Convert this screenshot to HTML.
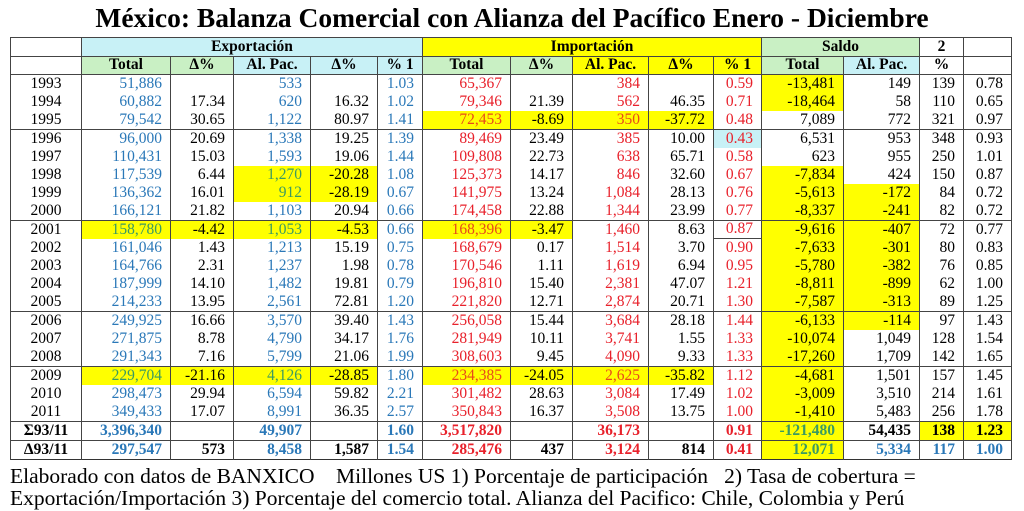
<!DOCTYPE html>
<html><head><meta charset="utf-8"><style>
body{margin:0;width:1024px;height:511px;background:#fff;position:relative;overflow:hidden;font-family:"Liberation Serif",serif;}
h1{position:absolute;left:0;top:3px;width:1024px;margin:0;text-align:center;font-size:27.5px;font-weight:bold;line-height:30px;color:#000;}
table{position:absolute;left:10px;top:37px;border-collapse:collapse;table-layout:fixed;width:1001px;font-size:15.5px;border:1.5px solid #333;}
td{border-left:1px solid #444;border-right:1px solid #444;padding:0 8px 0 0;text-align:right;white-space:nowrap;overflow:hidden;line-height:16px;}
tr.h td{text-align:center;font-weight:bold;padding:0;border:1px solid #444;height:17.5px;}
tr.d td{height:17.95px;}
tr.s td{border-bottom:1px solid #444;}
tr.t td{border-top:1px solid #444;height:18px;font-weight:bold;}
td.y{text-align:center;padding:0;}
.b{color:#2a78b8}.r{color:#e8212b}
.Y{background:#ffff00}
.Yb{background:#ffff00;color:#3a9a62}
.Yr{background:#ffff00;color:#e84a1a}
.lb{background:#c8f1f6}.lg{background:#c9f0c4}
.foot{position:absolute;left:10px;font-size:21.5px;line-height:22px;white-space:nowrap;}
</style></head><body>
<h1>México: Balanza Comercial con Alianza del Pacífico Enero - Diciembre</h1>
<table>
<colgroup><col style="width:71px"><col style="width:89px"><col style="width:63px"><col style="width:77px"><col style="width:67px"><col style="width:45px"><col style="width:88px"><col style="width:62px"><col style="width:76px"><col style="width:65px"><col style="width:48px"><col style="width:82px"><col style="width:76px"><col style="width:44px"><col style="width:48px"></colgroup>
<tr class="h"><td></td><td colspan="5" class="lb">Exportación</td><td colspan="5" class="Y">Importación</td><td colspan="2" class="lg">Saldo</td><td>2</td><td></td></tr>
<tr class="h"><td></td><td class="lg">Total</td><td class="lg">Δ%</td><td class="lb">Al. Pac.</td><td class="lb">Δ%</td><td class="lb">% 1</td><td class="lg">Total</td><td class="lg">Δ%</td><td class="Y">Al. Pac.</td><td class="Y">Δ%</td><td class="Y">% 1</td><td class="lg">Total</td><td class="lb">Al. Pac.</td><td>%</td><td></td></tr>
<tr class="d"><td class="y">1993</td><td class="b">51,886</td><td></td><td class="b">533</td><td></td><td class="b">1.03</td><td class="r">65,367</td><td></td><td class="r">384</td><td></td><td class="r">0.59</td><td class="Y">-13,481</td><td>149</td><td>139</td><td>0.78</td></tr>
<tr class="d"><td class="y">1994</td><td class="b">60,882</td><td>17.34</td><td class="b">620</td><td>16.32</td><td class="b">1.02</td><td class="r">79,346</td><td>21.39</td><td class="r">562</td><td>46.35</td><td class="r">0.71</td><td class="Y">-18,464</td><td>58</td><td>110</td><td>0.65</td></tr>
<tr class="d s"><td class="y">1995</td><td class="b">79,542</td><td>30.65</td><td class="b">1,122</td><td>80.97</td><td class="b">1.41</td><td class="Yr">72,453</td><td class="Y">-8.69</td><td class="Yr">350</td><td class="Y">-37.72</td><td class="r">0.48</td><td>7,089</td><td>772</td><td>321</td><td>0.97</td></tr>
<tr class="d"><td class="y">1996</td><td class="b">96,000</td><td>20.69</td><td class="b">1,338</td><td>19.25</td><td class="b">1.39</td><td class="r">89,469</td><td>23.49</td><td class="r">385</td><td>10.00</td><td class="r lb">0.43</td><td>6,531</td><td>953</td><td>348</td><td>0.93</td></tr>
<tr class="d"><td class="y">1997</td><td class="b">110,431</td><td>15.03</td><td class="b">1,593</td><td>19.06</td><td class="b">1.44</td><td class="r">109,808</td><td>22.73</td><td class="r">638</td><td>65.71</td><td class="r">0.58</td><td>623</td><td>955</td><td>250</td><td>1.01</td></tr>
<tr class="d"><td class="y">1998</td><td class="b">117,539</td><td>6.44</td><td class="Yb">1,270</td><td class="Y">-20.28</td><td class="b">1.08</td><td class="r">125,373</td><td>14.17</td><td class="r">846</td><td>32.60</td><td class="r">0.67</td><td class="Y">-7,834</td><td>424</td><td>150</td><td>0.87</td></tr>
<tr class="d"><td class="y">1999</td><td class="b">136,362</td><td>16.01</td><td class="Yb">912</td><td class="Y">-28.19</td><td class="b">0.67</td><td class="r">141,975</td><td>13.24</td><td class="r">1,084</td><td>28.13</td><td class="r">0.76</td><td class="Y">-5,613</td><td class="Y">-172</td><td>84</td><td>0.72</td></tr>
<tr class="d s"><td class="y">2000</td><td class="b">166,121</td><td>21.82</td><td class="b">1,103</td><td>20.94</td><td class="b">0.66</td><td class="r">174,458</td><td>22.88</td><td class="r">1,344</td><td>23.99</td><td class="r">0.77</td><td class="Y">-8,337</td><td class="Y">-241</td><td>82</td><td>0.72</td></tr>
<tr class="d"><td class="y">2001</td><td class="Yb">158,780</td><td class="Y">-4.42</td><td class="Yb">1,053</td><td class="Y">-4.53</td><td class="b">0.66</td><td class="Yr">168,396</td><td class="Y">-3.47</td><td class="r">1,460</td><td>8.63</td><td class="r" style="border-bottom:1px solid #444">0.87</td><td class="Y">-9,616</td><td class="Y">-407</td><td>72</td><td>0.77</td></tr>
<tr class="d"><td class="y">2002</td><td class="b">161,046</td><td>1.43</td><td class="b">1,213</td><td>15.19</td><td class="b">0.75</td><td class="r">168,679</td><td>0.17</td><td class="r">1,514</td><td>3.70</td><td class="r">0.90</td><td class="Y">-7,633</td><td class="Y">-301</td><td>80</td><td>0.83</td></tr>
<tr class="d"><td class="y">2003</td><td class="b">164,766</td><td>2.31</td><td class="b">1,237</td><td>1.98</td><td class="b">0.78</td><td class="r">170,546</td><td>1.11</td><td class="r">1,619</td><td>6.94</td><td class="r">0.95</td><td class="Y">-5,780</td><td class="Y">-382</td><td>76</td><td>0.85</td></tr>
<tr class="d"><td class="y">2004</td><td class="b">187,999</td><td>14.10</td><td class="b">1,482</td><td>19.81</td><td class="b">0.79</td><td class="r">196,810</td><td>15.40</td><td class="r">2,381</td><td>47.07</td><td class="r">1.21</td><td class="Y">-8,811</td><td class="Y">-899</td><td>62</td><td>1.00</td></tr>
<tr class="d s"><td class="y">2005</td><td class="b">214,233</td><td>13.95</td><td class="b">2,561</td><td>72.81</td><td class="b">1.20</td><td class="r">221,820</td><td>12.71</td><td class="r">2,874</td><td>20.71</td><td class="r">1.30</td><td class="Y">-7,587</td><td class="Y">-313</td><td>89</td><td>1.25</td></tr>
<tr class="d"><td class="y">2006</td><td class="b">249,925</td><td>16.66</td><td class="b">3,570</td><td>39.40</td><td class="b">1.43</td><td class="r">256,058</td><td>15.44</td><td class="r">3,684</td><td>28.18</td><td class="r">1.44</td><td class="Y">-6,133</td><td class="Y">-114</td><td>97</td><td>1.43</td></tr>
<tr class="d"><td class="y">2007</td><td class="b">271,875</td><td>8.78</td><td class="b">4,790</td><td>34.17</td><td class="b">1.76</td><td class="r">281,949</td><td>10.11</td><td class="r">3,741</td><td>1.55</td><td class="r">1.33</td><td class="Y">-10,074</td><td>1,049</td><td>128</td><td>1.54</td></tr>
<tr class="d s"><td class="y">2008</td><td class="b">291,343</td><td>7.16</td><td class="b">5,799</td><td>21.06</td><td class="b">1.99</td><td class="r">308,603</td><td>9.45</td><td class="r">4,090</td><td>9.33</td><td class="r">1.33</td><td class="Y">-17,260</td><td>1,709</td><td>142</td><td>1.65</td></tr>
<tr class="d"><td class="y">2009</td><td class="Yb">229,704</td><td class="Y">-21.16</td><td class="Yb">4,126</td><td class="Y">-28.85</td><td class="b">1.80</td><td class="Yr">234,385</td><td class="Y">-24.05</td><td class="Yr">2,625</td><td class="Y">-35.82</td><td class="r">1.12</td><td class="Y">-4,681</td><td>1,501</td><td>157</td><td>1.45</td></tr>
<tr class="d"><td class="y">2010</td><td class="b">298,473</td><td>29.94</td><td class="b">6,594</td><td>59.82</td><td class="b">2.21</td><td class="r">301,482</td><td>28.63</td><td class="r">3,084</td><td>17.49</td><td class="r">1.02</td><td class="Y">-3,009</td><td>3,510</td><td>214</td><td>1.61</td></tr>
<tr class="d"><td class="y">2011</td><td class="b">349,433</td><td>17.07</td><td class="b">8,991</td><td>36.35</td><td class="b">2.57</td><td class="r">350,843</td><td>16.37</td><td class="r">3,508</td><td>13.75</td><td class="r">1.00</td><td class="Y">-1,410</td><td>5,483</td><td>256</td><td>1.78</td></tr>
<tr class="t"><td class="y">Σ93/11</td><td class="b">3,396,340</td><td></td><td class="b">49,907</td><td></td><td class="b">1.60</td><td class="r">3,517,820</td><td></td><td class="r">36,173</td><td></td><td class="r">0.91</td><td class="Yb">-121,480</td><td>54,435</td><td class="Y">138</td><td class="Y">1.23</td></tr>
<tr class="t"><td class="y">Δ93/11</td><td class="b">297,547</td><td>573</td><td class="b">8,458</td><td>1,587</td><td class="b">1.54</td><td class="r">285,476</td><td>437</td><td class="r">3,124</td><td>814</td><td class="r">0.41</td><td class="Yb">12,071</td><td class="b">5,334</td><td class="b">117</td><td class="b">1.00</td></tr>
</table>
<div class="foot" style="top:465px">Elaborado con datos de BANXICO&nbsp;&nbsp;&nbsp; Millones US 1) Porcentaje de participación&nbsp;&nbsp; 2) Tasa de cobertura =</div>
<div class="foot" style="top:487px">Exportación/Importación 3) Porcentaje del comercio total. Alianza del Pacifico: Chile, Colombia y Perú</div>
</body></html>
